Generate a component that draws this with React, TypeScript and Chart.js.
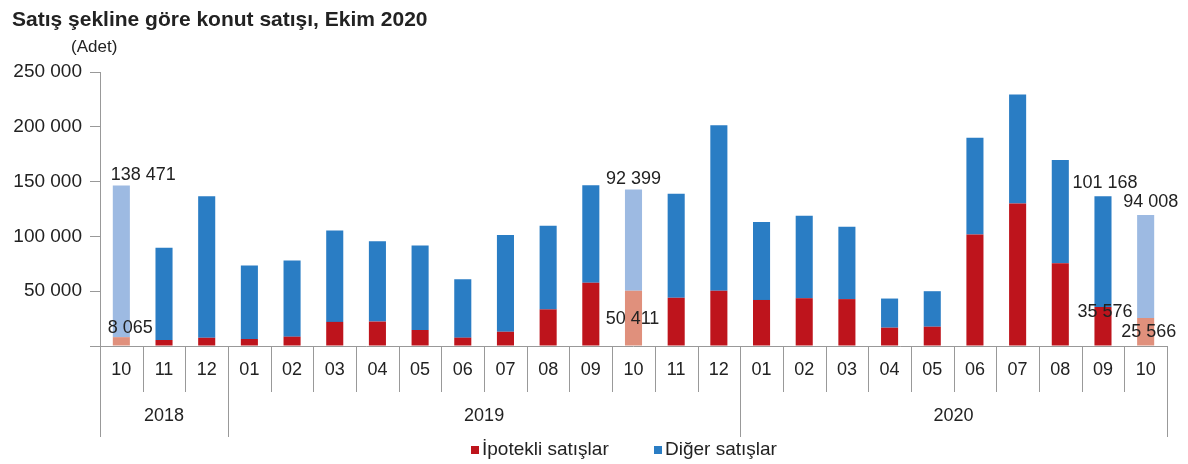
import React, { useEffect, useRef } from "react";
import { Chart, registerables } from "chart.js";

Chart.register(...registerables);

const TITLE = "Satış şekline göre konut satışı, Ekim 2020";
const UNIT = "(Adet)";
const months = ["10", "11", "12", "01", "02", "03", "04", "05", "06", "07", "08", "09", "10", "11", "12", "01", "02", "03", "04", "05", "06", "07", "08", "09", "10"];
const yearLabels = ["2018", "2019", "2020"];
const yearSpans = [3, 12, 10];
const seriesNames = ["İpotekli satışlar", "Diğer satışlar"];
const ipotekli = [8065, 5500, 7500, 6400, 8500, 22000, 22300, 14600, 7600, 13000, 33400, 57800, 50411, 44000, 50300, 42000, 43600, 42800, 16700, 17600, 101800, 130000, 75400, 35576, 25566];
const diger = [138471, 84200, 129100, 67000, 69400, 83400, 73200, 77100, 53200, 88300, 76300, 88800, 92399, 94900, 151200, 71100, 75200, 65900, 26600, 32400, 88200, 99400, 94400, 101168, 94008];
const highlighted = [0, 12, 24];
const yTicks = [0, 50000, 100000, 150000, 200000, 250000];

const RED = "#BE141C";
const BLUE = "#2A7DC4";
const RED_LIGHT = "#E0907C";
const BLUE_LIGHT = "#9DBAE2";
const TEXT = "#222222";
const LINE = "#999999";
const FONT = "Liberation Sans, Arial, sans-serif";

// label placements: [dataset, index, dx, dy] relative to segment top
const labelSpecs: [number, number, number, number][] = [
  [1, 0, 22, -10],
  [0, 0, 9, -9],
  [1, 12, 0, -10],
  [0, 12, -1, 28],
  [1, 23, 2, -13],
  [0, 23, 2, 5],
  [1, 24, 5, -13],
  [0, 24, 3, 14],
];

const fmt = (v: number) => {
  const s = Math.round(v).toString();
  return s.replace(/\B(?=(\d{3})+(?!\d))/g, " ");
};

const overlay = {
  id: "overlay",
  afterDraw(chart: any) {
    const ctx = chart.ctx;
    const x = chart.scales.x;
    const y = chart.scales.y;
    const area = chart.chartArea;
    const n = months.length;
    ctx.save();

    // title
    ctx.fillStyle = TEXT;
    ctx.textBaseline = "middle";
    ctx.textAlign = "left";
    ctx.font = `bold 21px ${FONT}`;
    ctx.fillText(TITLE, 12, 20);
    ctx.font = `17px ${FONT}`;
    ctx.fillText(UNIT, 71, 47);

    // x axis line
    ctx.strokeStyle = LINE;
    ctx.lineWidth = 1;
    ctx.beginPath();
    ctx.moveTo(area.left, Math.round(area.bottom) + 0.5);
    ctx.lineTo(area.right, Math.round(area.bottom) + 0.5);
    ctx.stroke();

    const edge = (i: number) => {
      if (i <= 0) return area.left;
      if (i >= n) return area.right;
      return (x.getPixelForValue(i - 1) + x.getPixelForValue(i)) / 2;
    };
    const yearBounds: number[] = [0];
    yearSpans.forEach((s) => yearBounds.push(yearBounds[yearBounds.length - 1] + s));

    for (let i = 0; i <= n; i++) {
      const px = Math.round(edge(i)) + 0.5;
      const isYear = yearBounds.includes(i);
      ctx.beginPath();
      ctx.moveTo(px, area.bottom);
      ctx.lineTo(px, isYear ? area.bottom + 91 : area.bottom + 46);
      ctx.stroke();
    }

    ctx.fillStyle = TEXT;
    ctx.textAlign = "center";
    ctx.font = `18px ${FONT}`;
    months.forEach((m, i) => {
      ctx.fillText(m, x.getPixelForValue(i), area.bottom + 24);
    });
    yearLabels.forEach((yl, k) => {
      const a = edge(yearBounds[k]);
      const b = edge(yearBounds[k + 1]);
      ctx.fillText(yl, (a + b) / 2, area.bottom + 70);
    });

    // data labels
    labelSpecs.forEach(([ds, idx, dx, dy]) => {
      const val = ds === 0 ? ipotekli[idx] : diger[idx];
      const topVal = ds === 0 ? ipotekli[idx] : ipotekli[idx] + diger[idx];
      const px = x.getPixelForValue(idx) + dx;
      const py = y.getPixelForValue(topVal) + dy;
      ctx.fillText(fmt(val), px, py);
    });

    // legend
    const ly = 450;
    ctx.textAlign = "left";
    ctx.font = `19px ${FONT}`;
    ctx.fillStyle = RED;
    ctx.fillRect(471, ly - 4, 8, 8);
    ctx.fillStyle = TEXT;
    ctx.fillText(seriesNames[0], 482, ly);
    ctx.fillStyle = BLUE;
    ctx.fillRect(654, ly - 4, 8, 8);
    ctx.fillStyle = TEXT;
    ctx.fillText(seriesNames[1], 665, ly);

    ctx.restore();
  },
};

export default function App() {
  const ref = useRef<HTMLCanvasElement>(null);
  useEffect(() => {
    document.body.style.margin = "0";
    const redColors = months.map((_, i) => (highlighted.includes(i) ? RED_LIGHT : RED));
    const blueColors = months.map((_, i) => (highlighted.includes(i) ? BLUE_LIGHT : BLUE));
    const chart = new Chart(ref.current as HTMLCanvasElement, {
      type: "bar",
      data: {
        labels: months,
        datasets: [
          { label: seriesNames[0], data: ipotekli, backgroundColor: redColors, barPercentage: 0.4, categoryPercentage: 1 },
          { label: seriesNames[1], data: diger, backgroundColor: blueColors, barPercentage: 0.4, categoryPercentage: 1 },
        ],
      },
      options: {
        animation: false,
        responsive: false,
        devicePixelRatio: 1,
        layout: { padding: { top: 72, bottom: 118, right: 21, left: 0 } },
        plugins: { legend: { display: false }, tooltip: { enabled: false }, title: { display: false } },
        scales: {
          x: { stacked: true, display: false },
          y: {
            stacked: true,
            min: 0,
            max: 250000,
            afterBuildTicks: (scale: any) => {
              scale.ticks = yTicks.map((v) => ({ value: v }));
            },
            afterFit: (scale: any) => {
              scale.width = 100;
            },
            ticks: {
              padding: 8,
              color: TEXT,
              font: { family: FONT, size: 19 },
              callback: (v: any) => (Number(v) === 0 ? "" : fmt(Number(v))),
            },
            grid: { drawOnChartArea: false, drawTicks: true, tickLength: 10, color: LINE },
            border: { color: LINE },
          },
        },
      },
      plugins: [overlay],
    });
    return () => chart.destroy();
  }, []);
  return <canvas ref={ref} width={1188} height={464} style={{ display: "block" }} />;
}
